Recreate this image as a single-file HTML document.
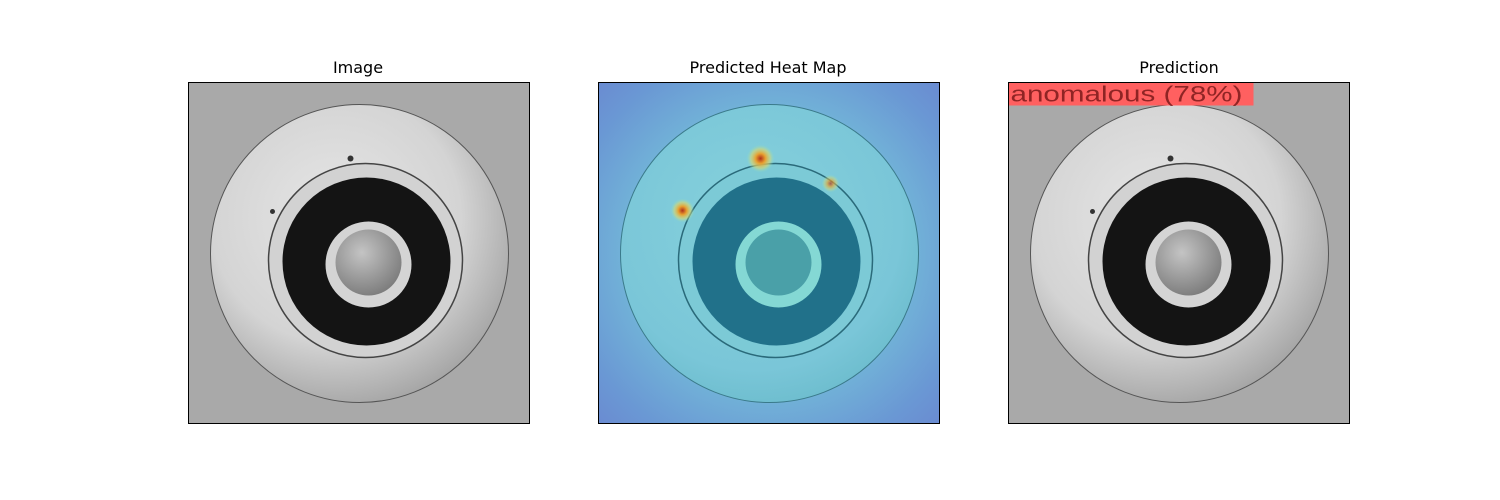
<!DOCTYPE html>
<html><head><meta charset="utf-8"><style>
body{margin:0;background:#fff;}
svg{display:block;font-family:"DejaVu Sans","Liberation Sans",sans-serif;}
</style></head><body>
<svg width="1500" height="500" viewBox="0 0 1500 500">
<defs>
<radialGradient id="diskG" cx="0.42" cy="0.38" r="0.7">
<stop offset="0" stop-color="#e6e6e6"/><stop offset="0.6" stop-color="#d4d4d4"/><stop offset="1" stop-color="#9a9a9a"/>
</radialGradient>
<radialGradient id="holeG" cx="0.4" cy="0.35" r="0.7">
<stop offset="0" stop-color="#c4c4c4"/><stop offset="1" stop-color="#7a7a7a"/>
</radialGradient>
<radialGradient id="hdiskG" cx="0.45" cy="0.4" r="0.7">
<stop offset="0" stop-color="#86d2dc"/><stop offset="0.7" stop-color="#7ac6d8"/><stop offset="1" stop-color="#66b8c8"/>
</radialGradient>
<radialGradient id="bgG" cx="0.5" cy="0.5" r="0.75">
<stop offset="0.55" stop-color="#72b4d8"/><stop offset="0.8" stop-color="#6a98d4"/><stop offset="1" stop-color="#6a86d0"/>
</radialGradient>
<radialGradient id="hotG">
<stop offset="0" stop-color="#b0301a"/><stop offset="0.35" stop-color="#e8a030"/><stop offset="0.7" stop-color="#d8d870" stop-opacity="0.6"/><stop offset="1" stop-color="#90e0c0" stop-opacity="0"/>
</radialGradient>
<g id="part">
<rect x="0" y="0" width="341" height="341" fill="#a9a9a9"/>
<circle cx="171" cy="171" r="149" fill="url(#diskG)" stroke="#555" stroke-width="1"/>
<circle cx="177" cy="178" r="97" fill="#d2d2d2" stroke="#444" stroke-width="1.5"/>
<circle cx="178" cy="179" r="84" fill="#141414"/>
<circle cx="180" cy="182" r="43" fill="#d4d4d4"/>
<circle cx="180" cy="180" r="33" fill="url(#holeG)"/>
<circle cx="162" cy="76" r="3" fill="#333"/>
<circle cx="84" cy="129" r="2.5" fill="#333"/>
</g>
</defs>

<text x="358" y="73" font-size="16" text-anchor="middle" fill="#000">Image</text>
<g transform="translate(188.5,82.5)">
<use href="#part"/>
<rect x="0" y="0" width="341" height="341" fill="none" stroke="#000" stroke-width="1"/>
</g>

<text x="768" y="73" font-size="16" text-anchor="middle" fill="#000">Predicted Heat Map</text>
<g transform="translate(598.5,82.5)">
<rect x="0" y="0" width="341" height="341" fill="url(#bgG)"/>
<circle cx="171" cy="171" r="149" fill="url(#hdiskG)" stroke="#3a7a8a" stroke-width="1"/>
<circle cx="177" cy="178" r="97" fill="#7ccad6" stroke="#2a6a7a" stroke-width="1.5"/>
<circle cx="178" cy="179" r="84" fill="#21718a"/>
<circle cx="180" cy="182" r="43" fill="#84d8d4"/>
<circle cx="180" cy="180" r="33" fill="#4aa0a8"/>
<circle cx="162" cy="76" r="14" fill="url(#hotG)"/>
<circle cx="84" cy="128" r="12" fill="url(#hotG)"/>
<circle cx="232" cy="101" r="9" fill="url(#hotG)" opacity="0.7"/>
<rect x="0" y="0" width="341" height="341" fill="none" stroke="#000" stroke-width="1"/>
</g>

<text x="1179" y="73" font-size="16" text-anchor="middle" fill="#000">Prediction</text>
<g transform="translate(1008.5,82.5)">
<use href="#part"/>
<rect x="0" y="0" width="245" height="23" fill="#ff6060"/>
<text x="2" y="19" font-size="22" font-family="Liberation Sans, sans-serif" fill="#6a1010" fill-opacity="0.75" textLength="232" lengthAdjust="spacingAndGlyphs">anomalous (78%)</text>
<rect x="0" y="0" width="341" height="341" fill="none" stroke="#000" stroke-width="1"/>
</g>
</svg>
</body></html>
